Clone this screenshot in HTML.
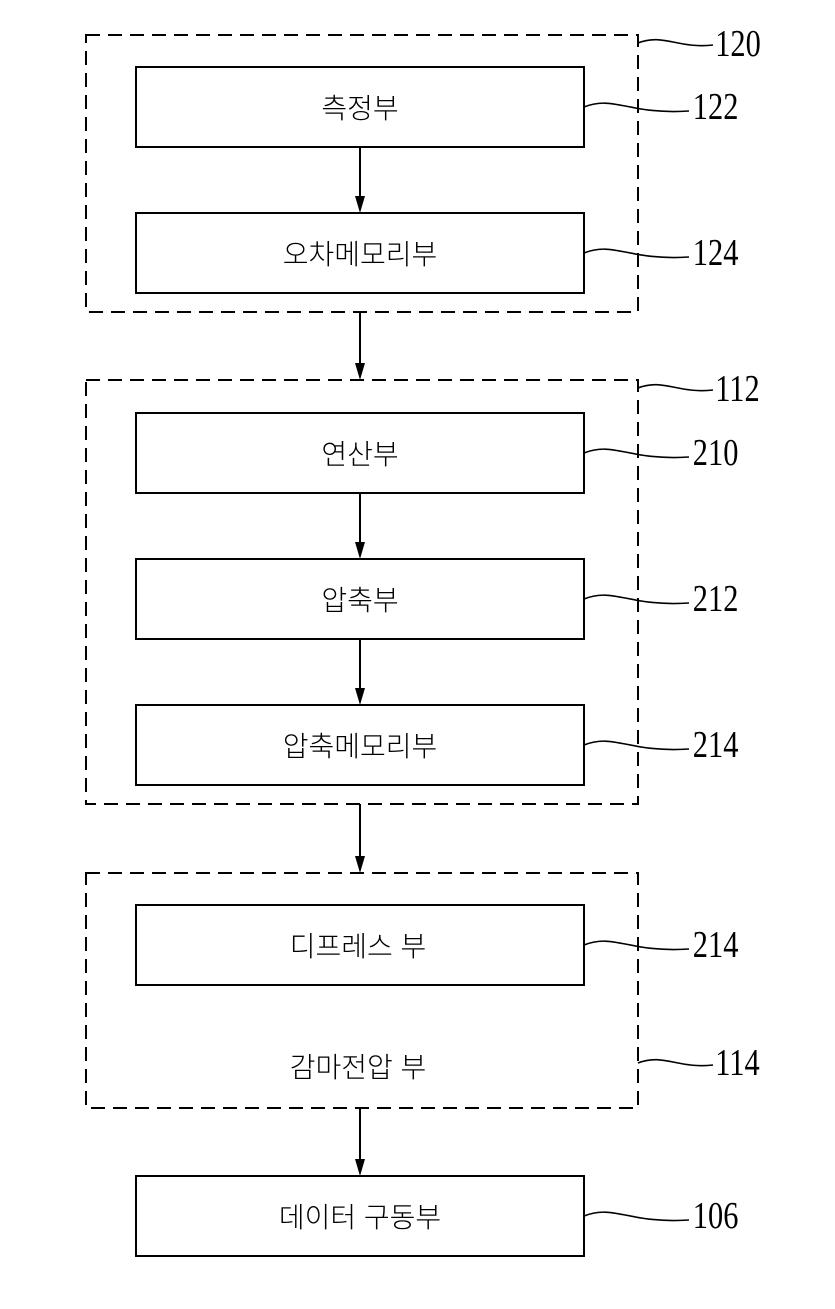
<!DOCTYPE html>
<html><head><style>html,body{margin:0;padding:0;background:#fff}</style></head>
<body>
<svg width="835" height="1304" viewBox="0 0 835 1304" xmlns="http://www.w3.org/2000/svg">
<g fill="none" stroke="#000" stroke-width="2">
<g stroke-dasharray="14,8">
<rect x="86" y="35" width="552" height="277"/>
<rect x="86" y="380" width="552" height="424"/>
<rect x="86" y="873" width="552" height="235"/>
</g>
<rect x="136" y="67" width="448" height="80"/>
<rect x="136" y="213" width="448" height="80"/>
<rect x="136" y="413" width="448" height="80"/>
<rect x="136" y="559" width="448" height="80"/>
<rect x="136" y="705" width="448" height="80"/>
<rect x="136" y="905" width="448" height="80"/>
<rect x="136" y="1176" width="448" height="80"/>
</g>
<g stroke="#000" stroke-width="2">
<line x1="360" y1="147" x2="360" y2="200"/>
<line x1="360" y1="312" x2="360" y2="367"/>
<line x1="360" y1="493" x2="360" y2="546"/>
<line x1="360" y1="639" x2="360" y2="692"/>
<line x1="360" y1="804" x2="360" y2="860"/>
<line x1="360" y1="1108" x2="360" y2="1163"/>
</g>
<g fill="#000">
<path d="M355,196 L365,196 L360,213 Z"/>
<path d="M355,363 L365,363 L360,380 Z"/>
<path d="M355,542 L365,542 L360,559 Z"/>
<path d="M355,688 L365,688 L360,705 Z"/>
<path d="M355,856 L365,856 L360,873 Z"/>
<path d="M355,1159 L365,1159 L360,1176 Z"/>
</g>
<g fill="none" stroke="#000" stroke-width="1.6">
<path d="M638,43 c25,-10 40,6 75,2"/>
<path d="M584,107 c30,-12 45,8 105,4"/>
<path d="M584,253 c30,-12 45,8 105,4"/>
<path d="M638,388 c25,-10 40,6 75,2"/>
<path d="M584,453 c30,-12 45,8 105,4"/>
<path d="M584,599 c30,-12 45,8 105,4"/>
<path d="M584,745 c30,-12 45,8 105,4"/>
<path d="M584,945 c30,-12 45,8 105,4"/>
<path d="M638,1063 c25,-10 40,6 75,2"/>
<path d="M584,1216 c30,-12 45,8 105,4"/>
</g>
<g font-family="Liberation Serif, serif" font-size="38" fill="#000" transform="scale(0.8,1)">
<text x="894" y="56">120</text>
<text x="866" y="119">122</text>
<text x="866" y="265">124</text>
<text x="894" y="401">112</text>
<text x="866" y="465">210</text>
<text x="866" y="611">212</text>
<text x="866" y="757">214</text>
<text x="866" y="957">214</text>
<text x="894" y="1075">114</text>
<text x="866" y="1228">106</text>
</g>
<g font-family="Liberation Sans, 'Noto Sans CJK KR', NanumGothic, sans-serif" font-size="28" font-weight="300" fill="#000" text-anchor="middle">
<text x="360" y="118">측정부</text>
<text x="360" y="264">오차메모리부</text>
<text x="360" y="464">연산부</text>
<text x="360" y="610">압축부</text>
<text x="360" y="756">압축메모리부</text>
<text x="358" y="956">디프레스 부</text>
<text x="358" y="1077">감마전압 부</text>
<text x="360" y="1227">데이터 구동부</text>
</g>
</svg>
</body></html>
